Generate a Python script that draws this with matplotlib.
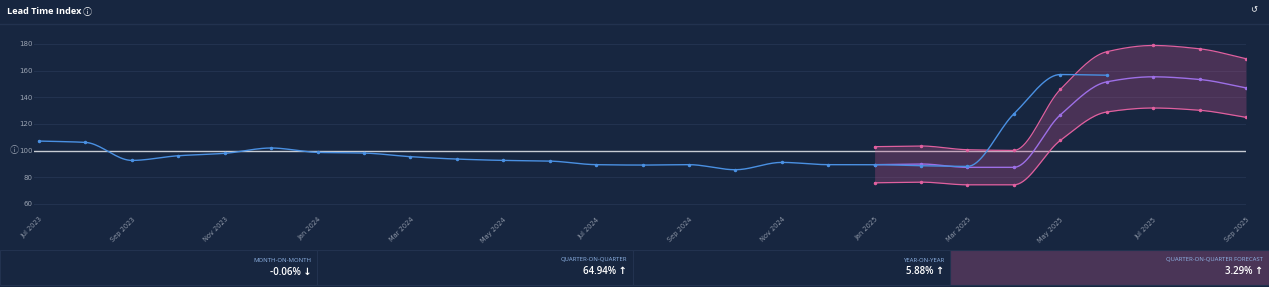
import numpy as np
import matplotlib.pyplot as plt
from matplotlib.patches import Rectangle

# ---- data ----
months = ["Jul 2023", "Aug 2023", "Sep 2023", "Oct 2023", "Nov 2023", "Dec 2023",
          "Jan 2024", "Feb 2024", "Mar 2024", "Apr 2024", "May 2024", "Jun 2024",
          "Jul 2024", "Aug 2024", "Sep 2024", "Oct 2024", "Nov 2024", "Dec 2024",
          "Jan 2025", "Feb 2025", "Mar 2025", "Apr 2025", "May 2025", "Jun 2025",
          "Jul 2025", "Aug 2025", "Sep 2025"]
actual = [107.2, 106.2, 92.7, 96.2, 98.0, 102.0, 98.7, 98.2, 95.5, 93.7, 92.7, 92.2,
          89.5, 89.2, 89.5, 85.7, 91.2, 89.5, 89.5, 88.7, 88.2, 127.6, 157.1, 156.6]
forecast_start = 18  # Jan 2025
forecast = [89.5, 90.0, 87.5, 87.5, 126.8, 151.6, 155.4, 153.4, 147.1]
upper = [103.0, 103.5, 100.7, 100.2, 145.9, 174.2, 178.9, 176.4, 169.0]
lower = [75.9, 76.4, 74.4, 74.4, 107.7, 129.0, 132.0, 130.3, 125.0]
baseline = 100
yticks = [60, 80, 100, 120, 140, 160, 180]

kpi_labels = ["MONTH-ON-MONTH", "QUARTER-ON-QUARTER", "YEAR-ON-YEAR", "QUARTER-ON-QUARTER FORECAST"]
kpi_values = ["-0.06% \u2193", "64.94% \u2191", "5.88% \u2191", "3.29% \u2191"]

BG = "#172640"
GRID = "#22324f"
BLUE = "#4a90e2"
PURPLE = "#9d6fe6"
PINK = "#e0609f"
W, H = 1269, 287
INFO_FONTS = ["Noto Sans CJK SC", "DejaVu Sans"]


def monotone(x, y, n=20):
    # Fritsch-Carlson monotone cubic, only for drawing the smooth curve
    x = np.asarray(x, float)
    y = np.asarray(y, float)
    h = np.diff(x)
    d = np.diff(y) / h
    m = np.zeros_like(y)
    m[0], m[-1] = d[0], d[-1]
    for i in range(1, len(y) - 1):
        if d[i - 1] * d[i] <= 0:
            m[i] = 0
        else:
            m[i] = 2 / (1 / d[i - 1] + 1 / d[i])
    xs, ys = [], []
    for i in range(len(h)):
        t = np.linspace(0, 1, n, endpoint=False)
        h00 = 2 * t**3 - 3 * t**2 + 1
        h10 = t**3 - 2 * t**2 + t
        h01 = -2 * t**3 + 3 * t**2
        h11 = t**3 - t**2
        xs.append(x[i] + t * h[i])
        ys.append(h00 * y[i] + h10 * h[i] * m[i] + h01 * y[i + 1] + h11 * h[i] * m[i + 1])
    xs.append([x[-1]])
    ys.append([y[-1]])
    return np.concatenate(xs), np.concatenate(ys)


fig = plt.figure(figsize=(W / 100, H / 100), dpi=100)
fig.patch.set_facecolor(BG)

# axes placed in pixel terms: x=0 -> 39px, x=26 -> 1246px ; 180 -> 44px, 60 -> 204px
px_per_month = (1246 - 39) / 26
px_per_unit = (204 - 44) / 120
x0, x1 = -0.1, 26
y0, y1 = 55, 190
left = 39 + x0 * px_per_month
top = 44 - (y1 - 180) * px_per_unit
bottom = 204 + (60 - y0) * px_per_unit
ax = fig.add_axes([left / W, 1 - bottom / H, (x1 - x0) * px_per_month / W, (bottom - top) / H])
ax.set_facecolor(BG)
ax.set_xlim(x0, x1)
ax.set_ylim(y0, y1)
for s in ax.spines.values():
    s.set_visible(False)

for yt in yticks:
    if yt != baseline:
        ax.axhline(yt, color=GRID, lw=0.8, zorder=0)
ax.axhline(baseline, color="#c8ccd4", lw=1.0, zorder=1)

ax.set_yticks(yticks)
ax.set_yticklabels([str(v) for v in yticks], fontsize=5, color="#9aa3b2")
ax.tick_params(axis="y", length=0, pad=1)
xi = np.arange(len(months))
ax.set_xticks(xi[::2])
ax.set_xticklabels(months[::2], rotation=45, ha="right", va="top", fontsize=4.8,
                   color="#8c95a5", rotation_mode="anchor")
ax.tick_params(axis="x", length=0, pad=4)

fx = xi[forecast_start:forecast_start + len(forecast)]
ux, uy = monotone(fx, upper)
lx, ly = monotone(fx, lower)
ax.fill_between(ux, ly, uy, color="#c0508a", alpha=0.3, lw=0, zorder=2)
ax.plot(ux, uy, color=PINK, lw=0.9, zorder=3)
ax.plot(lx, ly, color=PINK, lw=0.9, zorder=3)
ax.plot(fx, upper, "o", color=PINK, ms=1.5, zorder=4)
ax.plot(fx, lower, "o", color=PINK, ms=1.5, zorder=4)
cx, cy = monotone(fx, forecast)
ax.plot(cx, cy, color=PURPLE, lw=1.0, zorder=3)
ax.plot(fx, forecast, "o", color=PURPLE, ms=1.5, zorder=4)

axx = xi[:len(actual)]
bx, by = monotone(axx, actual)
ax.plot(bx, by, color=BLUE, lw=1.0, zorder=5)
ax.plot(axx, actual, "o", color=BLUE, ms=1.5, zorder=6)

# header
fig.text(7 / W, 1 - 12 / H, "Lead Time Index", fontsize=6.6, fontweight="bold", color="white",
         va="center", ha="left", family="Open Sans")
fig.text(83 / W, 1 - 12 / H, "\u24d8", fontsize=6.5, color="white", va="center", ha="left",
         family=INFO_FONTS)
fig.text(1254 / W, 1 - 10 / H, "\u21ba", fontsize=6, color="white", va="center", ha="center",
         family="DejaVu Sans")
fig.add_artist(plt.Line2D([0, 1], [1 - 24 / H, 1 - 24 / H], color=GRID, lw=1))
fig.text(14 / W, 1 - 151 / H, "\u24d8", fontsize=6.5, color="#9aa3b2", va="center", ha="center",
         family=INFO_FONTS)

# KPI strip
edges = [0, 317, 633, 950, 1269]
for i in range(4):
    xa, xb = edges[i], edges[i + 1]
    fc = "#4a3557" if i == 3 else BG
    fig.add_artist(Rectangle((xa / W, 1 - 285 / H), (xb - xa) / W, 35 / H, facecolor=fc,
                             edgecolor=GRID, lw=0.8, transform=fig.transFigure))
    fig.text((xb - 6) / W, 1 - 260 / H, kpi_labels[i], fontsize=4.3, color="#8fb4e6",
             ha="right", va="center", family="Open Sans")
    fig.text((xb - 6) / W, 1 - 272 / H, kpi_values[i], fontsize=7, color="white",
             fontweight="semibold", ha="right", va="center", family=["Open Sans", "DejaVu Sans"])

fig.savefig("out.png", dpi=100, facecolor=BG)
